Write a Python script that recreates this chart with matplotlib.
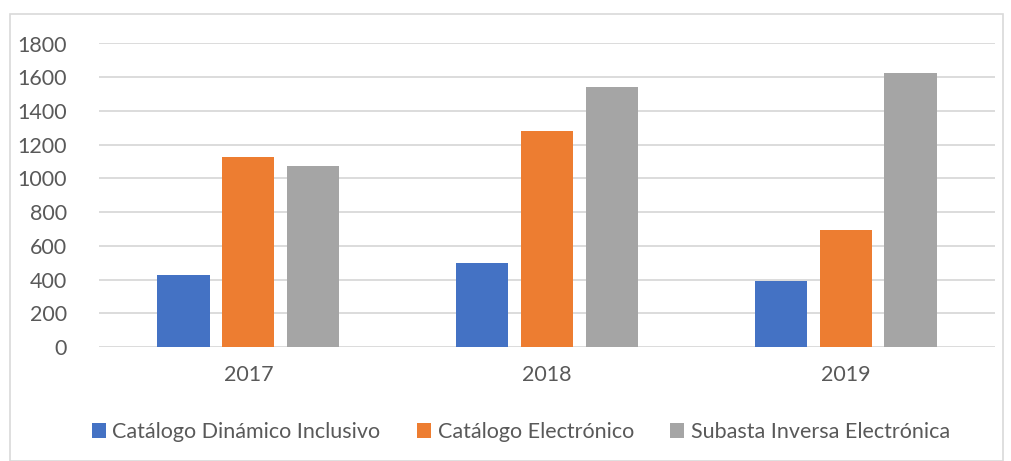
import matplotlib
matplotlib.use("Agg")
import matplotlib.pyplot as plt
import numpy as np
from matplotlib.patches import Rectangle

years = ["2017", "2018", "2019"]
series_names = ["Catálogo Dinámico Inclusivo", "Catálogo Electrónico", "Subasta Inversa Electrónica"]
dinamico = [428, 499, 390]
electronico = [1125, 1281, 691]
subasta = [1075, 1541, 1628]
colors = ["#4472C4", "#ED7D31", "#A5A5A5"]
yticks = [0, 200, 400, 600, 800, 1000, 1200, 1400, 1600, 1800]

plt.rcParams['font.family'] = ['Lato', 'DejaVu Sans']

W, H = 1011, 461
fig = plt.figure(figsize=(W/100, H/100), dpi=100)
ax = fig.add_axes([99/W, 1-347/H, (995-99)/W, (347-43.5)/H])

x = np.arange(len(years))
width = 0.175
offset = 0.217
for i, (vals, name, c) in enumerate(zip([dinamico, electronico, subasta], series_names, colors)):
    ax.bar(x + (i-1)*offset, vals, width, color=c, label=name, zorder=3)

ax.set_xlim(-0.5, 2.5)
ax.set_ylim(0, 1800)
ax.set_yticks(yticks)
ax.set_xticks(x)
ax.set_xticklabels(years)
ax.grid(axis='y', color='#D9D9D9', linewidth=1.3, zorder=0)
for s in ax.spines.values():
    s.set_visible(False)
ax.tick_params(axis='both', length=0, labelsize=15.5, colors='#595959')
ax.tick_params(axis='y', pad=23)
ax.tick_params(axis='x', pad=13)

leg = fig.legend(loc='center', bbox_to_anchor=(521/W, 1-432/H), ncol=3, frameon=False,
                 fontsize=15.5, handlelength=0.65, handleheight=0.65, handletextpad=0.3,
                 columnspacing=1.7)
for t in leg.get_texts():
    t.set_color('#595959')

fig.patches.append(Rectangle((10/W, 0), (1003-10)/W, 1-14/H, transform=fig.transFigure,
                             fill=False, edgecolor='#D9D9D9', linewidth=1.2))

fig.savefig("out.png", dpi=100)
